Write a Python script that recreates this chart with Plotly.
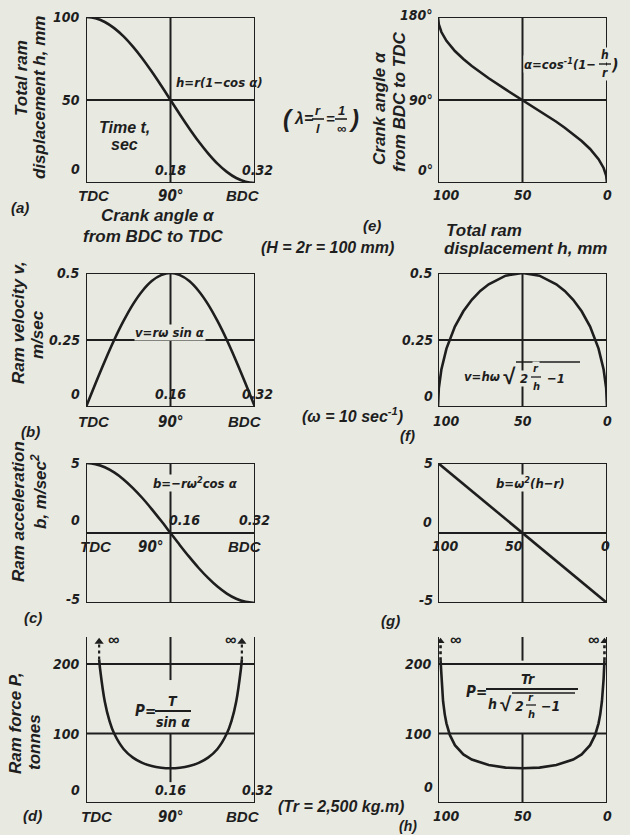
import plotly.graph_objects as go

W, H = 630, 835
BG = "#e8eae2"
INK = "#1e1e1e"
SANS = "Liberation Sans, Arial, DejaVu Sans, sans-serif"
NARROW = "Liberation Sans Narrow, DejaVu Sans Condensed, Liberation Sans, sans-serif"
TITLE = 17   # axis captions
NUM = 14     # tick numbers

# ---------------- data ----------------
# crank angle from TDC to BDC, degrees
crank_deg = [0, 10, 20, 30, 40, 50, 60, 70, 80, 90, 100, 110, 120, 130, 140, 150, 160, 170, 180]
# (a) ram displacement, mm
disp_mm = [100, 99.2, 97.0, 93.3, 88.3, 82.1, 75.0, 67.1, 58.7, 50, 41.3, 32.9, 25.0, 17.9, 11.7, 6.7, 3.0, 0.8, 0]
# (b) ram velocity, m/sec
vel_ms = [0, 0.087, 0.171, 0.25, 0.321, 0.383, 0.433, 0.470, 0.492, 0.5,
          0.492, 0.470, 0.433, 0.383, 0.321, 0.25, 0.171, 0.087, 0]
# (c) ram acceleration, m/sec^2
acc_ms2 = [5, 4.92, 4.70, 4.33, 3.83, 3.21, 2.5, 1.71, 0.87, 0,
           -0.87, -1.71, -2.5, -3.21, -3.83, -4.33, -4.70, -4.92, -5]
# (d) ram force vs crank angle, tonnes
force_deg = [14, 15, 20, 25, 30, 40, 50, 60, 70, 80, 90, 100, 110, 120, 130, 140, 150, 155, 160, 165, 166]
force_t = [206.7, 193.2, 146.2, 118.3, 100, 77.8, 65.3, 57.7, 53.2, 50.8, 50,
           50.8, 53.2, 57.7, 65.3, 77.8, 100, 118.3, 146.2, 193.2, 206.7]
# (e), (f) total ram displacement h, mm
stroke_mm = [100, 99.5, 98, 95, 90, 85, 80, 75, 70, 60, 50, 40, 30, 25, 20, 15, 10, 5, 2, 0.5, 0]
angle_deg = [180, 171.9, 163.7, 154.2, 143.1, 134.4, 126.9, 120, 113.6, 101.5, 90,
             78.5, 66.4, 60, 53.1, 45.6, 36.9, 25.8, 16.3, 8.1, 0]
vel_h = [0, 0.071, 0.14, 0.218, 0.3, 0.357, 0.4, 0.433, 0.458, 0.49, 0.5,
         0.49, 0.458, 0.433, 0.4, 0.357, 0.3, 0.218, 0.14, 0.071, 0]
# (g) acceleration is linear in h
acc_h_mm = [100, 50, 0]
acc_h = [5, 0, -5]
# (h) ram force vs displacement, tonnes
force_h_mm = [98.5, 98, 97, 96, 95, 93, 90, 85, 80, 70, 60, 50, 40, 30, 20, 15, 10, 7, 5, 4, 3, 2, 1.5]
force_h = [205.7, 178.6, 146.5, 127.6, 114.7, 98.0, 83.3, 70.0, 62.5, 54.6, 51.0, 50,
           51.0, 54.6, 62.5, 70.0, 83.3, 98.0, 114.7, 127.6, 146.5, 178.6, 205.7]

# tick labels
crank_ticks = [0, 90, 180]
crank_labels = ["TDC", "90°", "BDC"]
time_ticks = [90, 180]
time_labels_a = ["0.18", "0.32"]
time_labels = ["0.16", "0.32"]
h_ticks = [100, 50, 0]
h_labels = ["100", "50", "0"]

# ---------------- layout of the eight panels ----------------
# pixel box (left, right, top, bottom) and axis ranges
PANELS = {
    1: (86, 255, 17, 183),    # (a)
    2: (438, 607, 17, 183),   # (e)
    3: (86, 255, 273, 407),   # (b)
    4: (438, 607, 273, 407),  # (f)
    5: (86, 255, 463, 603),   # (c)
    6: (438, 607, 463, 603),  # (g)
    7: (86, 255, 637, 803),   # (d)
    8: (438, 607, 637, 803),  # (h)
}
RANGES = {
    1: ([0, 180], [0, 100]),
    2: ([100, 0], [0, 180]),
    3: ([0, 180], [0, 0.5]),
    4: ([100, 0], [0, 0.5]),
    5: ([0, 180], [-5, 5]),
    6: ([100, 0], [-5, 5]),
    7: ([0, 180], [0, 239]),
    8: ([100, 0], [0, 239]),
}


def refs(n):
    return ("x" if n == 1 else f"x{n}", "y" if n == 1 else f"y{n}")


layout = dict(
    width=W, height=H, margin=dict(l=0, r=0, t=0, b=0),
    paper_bgcolor=BG, plot_bgcolor=BG, showlegend=False,
)
for n, (l, r, t, b) in PANELS.items():
    xr, yr = RANGES[n]
    xk = "xaxis" if n == 1 else f"xaxis{n}"
    yk = "yaxis" if n == 1 else f"yaxis{n}"
    xa, ya = refs(n)
    layout[xk] = dict(domain=[l / W, r / W], range=xr, visible=False, anchor=ya)
    layout[yk] = dict(domain=[1 - b / H, 1 - t / H], range=yr, visible=False, anchor=xa)

shapes = []
annotations = []


def seg(n, x0, y0, x1, y1, w=2.0, dash="solid"):
    xa, ya = refs(n)
    shapes.append(dict(type="line", xref=xa, yref=ya, x0=x0, y0=y0, x1=x1, y1=y1,
                       line=dict(color=INK, width=w, dash=dash)))


def pseg(x0, y0, x1, y1, w=1.6):
    shapes.append(dict(type="line", xref="paper", yref="paper",
                       x0=x0 / W, y0=1 - y0 / H, x1=x1 / W, y1=1 - y1 / H,
                       line=dict(color=INK, width=w)))


def frame(n, top=True):
    (x0, x1), (y0, y1) = RANGES[n]
    seg(n, x0, y0, x1, y0)
    seg(n, x0, y0, x0, y1)
    seg(n, x1, y0, x1, y1)
    if top:
        seg(n, x0, y1, x1, y1)


def txt(s, x, y, ref=None, size=15, fam=SANS, xa="center", ya="middle",
        angle=0, xs=0, ys=0, bg=False):
    if ref is None:
        xref, yref, x, y = "paper", "paper", x / W, 1 - y / H
    else:
        xref, yref = refs(ref)
    d = dict(text=s, x=x, y=y, xref=xref, yref=yref, showarrow=False,
             font=dict(family=fam, size=size, color=INK, weight="bold", style="italic"),
             xanchor=xa, yanchor=ya, textangle=angle, xshift=xs, yshift=ys)
    if bg:
        d["bgcolor"] = BG
        d["borderpad"] = 0
    annotations.append(d)


fig = go.Figure()


def curve(n, xs, ys, w=2.6, dash="solid", shape="linear"):
    xa, ya = refs(n)
    fig.add_trace(go.Scatter(x=xs, y=ys, xaxis=xa, yaxis=ya, mode="lines",
                             line=dict(color=INK, width=w, dash=dash, shape=shape),
                             hoverinfo="skip"))


# ---------- (a) displacement vs crank angle ----------
frame(1)
seg(1, 0, 50, 180, 50)
seg(1, 90, 0, 90, 100)
curve(1, crank_deg, disp_mm, shape="spline")
txt("100", 0, 100, 1, size=NUM, fam=NARROW, xa="right", xs=-4)
txt("50", 0, 50, 1, size=NUM, fam=NARROW, xa="right", xs=-4)
txt("0", 0, 0, 1, size=NUM, fam=NARROW, xa="right", ya="bottom", xs=-4, ys=4)
for v, s in zip(time_ticks, time_labels_a):
    txt(s, v, 0, 1, size=NUM, fam=NARROW, ya="bottom", ys=3, xs=2 if v == 180 else 0)
for v, s in zip(crank_ticks, crank_labels):
    txt(s, v, 0, 1, fam=NARROW if v == 90 else SANS, size=NUM + 1, ya="top", ys=-2,
        xs={0: 8, 90: 0, 180: -12}[v])
txt("h=r(1−cos α)", 219, 82, fam=NARROW, size=13)
txt("Time t,", 124, 127, size=16)
txt("sec", 124, 144, size=16)
txt("Total ram", 21, 78, size=TITLE, angle=-90)
txt("displacement h, mm", 39, 98, size=TITLE, angle=-90)
txt("(a)", 20, 207, size=15)
txt("Crank angle α", 158, 216, size=TITLE)
txt("from BDC to TDC", 153, 237, size=TITLE)
txt("(H = 2r = 100 mm)", 327, 247, size=16)

# lambda note between (a) and (e)
txt("(", 288, 119, size=24)
txt("λ=", 303, 119, size=16)
txt("r", 318, 110, size=13)
txt("l", 318, 128, size=13)
pseg(312, 119, 324, 119)
txt("=", 330, 119, size=15)
txt("1", 341, 110, size=13)
txt("∞", 341, 128, size=13)
pseg(335, 119, 347, 119)
txt(")", 353, 119, size=24)

# ---------- (e) crank angle vs displacement ----------
frame(2)
seg(2, 100, 90, 0, 90)
seg(2, 50, 0, 50, 180)
curve(2, stroke_mm, angle_deg)
txt("180°", 100, 180, 2, size=NUM, fam=NARROW, xa="right", xs=-3, ys=2)
txt("90°", 100, 90, 2, size=NUM, fam=NARROW, xa="right", xs=-3)
txt("0°", 100, 0, 2, size=NUM, fam=NARROW, xa="right", ya="bottom", xs=-3, ys=3)
for v, s in zip(h_ticks, h_labels):
    txt(s, v, 0, 2, size=NUM, fam=NARROW, ya="top", ys=-2, xs={100: 8, 50: 0, 0: 0}[v])
txt("α=cos<sup>-1</sup>(1−", 597, 64, fam=NARROW, size=13, xa="right", bg=True)
txt("h", 605, 55, fam=NARROW, size=12, bg=True)
txt("r", 605, 73, fam=NARROW, size=12, bg=True)
pseg(599, 64, 611, 64, w=1.4)
txt(")", 615, 64, fam=NARROW, size=16)
txt("Crank angle α", 380, 108, size=TITLE, angle=-90)
txt("from BDC to TDC", 399, 102, size=TITLE, angle=-90)
txt("(e)", 372, 225, size=15)
txt("Total ram", 484, 231, size=TITLE)
txt("displacement h, mm", 525, 248, size=TITLE)

# ---------- (b) velocity vs crank angle ----------
frame(3)
seg(3, 0, 0.25, 180, 0.25)
seg(3, 90, 0, 90, 0.5)
curve(3, crank_deg, vel_ms, shape="spline")
txt("0.5", 0, 0.5, 3, size=NUM, fam=NARROW, xa="right", xs=-4)
txt("0.25", 0, 0.25, 3, size=NUM, fam=NARROW, xa="right", xs=-4)
txt("0", 0, 0, 3, size=NUM, fam=NARROW, xa="right", ya="bottom", xs=-4, ys=3)
for v, s in zip(time_ticks, time_labels):
    txt(s, v, 0, 3, size=NUM, fam=NARROW, ya="bottom", ys=3, xs=2 if v == 180 else 0)
for v, s in zip(crank_ticks, crank_labels):
    txt(s, v, 0, 3, fam=NARROW if v == 90 else SANS, size=NUM + 1, ya="top", ys=-4,
        xs={0: 8, 90: 0, 180: -10}[v])
txt("v=rω sin α", 170, 332, fam=NARROW, size=13, bg=True)
txt("Ram velocity v,", 18, 323, size=TITLE, angle=-90)
txt("m/sec", 38, 335, size=TITLE, angle=-90)
txt("(b)", 30, 431, size=15)
txt("(ω = 10 sec<sup>-1</sup>)", 352, 415, size=16)

# ---------- (f) velocity vs displacement ----------
frame(4)
seg(4, 100, 0.25, 0, 0.25)
seg(4, 50, 0, 50, 0.5)
curve(4, stroke_mm, vel_h)
txt("0.5", 100, 0.5, 4, size=NUM, fam=NARROW, xa="right", xs=-3)
txt("0.25", 100, 0.25, 4, size=NUM, fam=NARROW, xa="right", xs=-3)
txt("0", 100, 0, 4, size=NUM, fam=NARROW, xa="right", ya="bottom", xs=-3, ys=1)
for v, s in zip(h_ticks, h_labels):
    txt(s, v, 0, 4, size=NUM, fam=NARROW, ya="top", ys=-4, xs={100: 8, 50: 0, 0: 0}[v])
txt("v=hω", 482, 376, fam=NARROW, size=13, bg=True)
txt("√", 509, 376, fam=SANS, size=22, bg=True)
txt("2", 524, 378, fam=NARROW, size=13, bg=True)
txt("r", 536, 368, fam=NARROW, size=11, bg=True)
txt("h", 536, 386, fam=NARROW, size=11, bg=True)
pseg(531, 377, 541, 377, w=1.3)
txt("−1", 556, 378, fam=NARROW, size=13, bg=True)
pseg(516, 362, 580, 362, w=1.6)
txt("(f)", 407, 435, size=15)

# ---------- (c) acceleration vs crank angle ----------
frame(5)
seg(5, 0, 0, 180, 0)
seg(5, 90, -5, 90, 5)
curve(5, crank_deg, acc_ms2, shape="spline")
txt("5", 0, 5, 5, size=NUM, fam=NARROW, xa="right", xs=-4)
txt("0", 0, 0, 5, size=NUM, fam=NARROW, xa="right", ya="bottom", xs=-4, ys=3)
txt("-5", 0, -5, 5, size=NUM, fam=NARROW, xa="right", xs=-4, ys=4)
for v, s in zip(time_ticks, time_labels):
    txt(s, v, 0, 5, size=NUM, fam=NARROW, ya="bottom", ys=3, xs=14 if v == 90 else -1)
for v, s in zip(crank_ticks, crank_labels):
    txt(s, v, 0, 5, fam=NARROW if v == 90 else SANS, size=NUM + 1, ya="top", ys=-3,
        xs={0: 10, 90: -20, 180: -10}[v])
txt("b=−rω<sup>2</sup>cos α", 195, 483, fam=NARROW, size=13, bg=True)
txt("Ram acceleration", 18, 512, size=TITLE, angle=-90)
txt("b, m/sec<sup>2</sup>", 39, 492, size=TITLE, angle=-90)
txt("(c)", 33, 617, size=15)

# ---------- (g) acceleration vs displacement ----------
frame(6)
seg(6, 100, 0, 0, 0)
seg(6, 50, -5, 50, 5)
curve(6, acc_h_mm, acc_h)
txt("5", 100, 5, 6, size=NUM, fam=NARROW, xa="right", xs=-3)
txt("0", 100, 0, 6, size=NUM, fam=NARROW, xa="right", ya="bottom", xs=-4, ys=1)
txt("-5", 100, -5, 6, size=NUM, fam=NARROW, xa="right", xs=-3, ys=3)
for v, s in zip(h_ticks, h_labels):
    txt(s, v, 0, 6, size=NUM, fam=NARROW, ya="top", ys=-3, xs={100: 7, 50: -9, 0: -2}[v])
txt("b=ω<sup>2</sup>(h−r)", 530, 483, fam=NARROW, size=13, bg=True)
txt("(g)", 390, 620, size=15)

# ---------- (d) force vs crank angle ----------
frame(7, top=False)
seg(7, 0, 100, 180, 100)
seg(7, 0, 200, 180, 200)
seg(7, 90, 30, 90, 100)
seg(7, 90, 177, 90, 239)
curve(7, force_deg, force_t, shape="spline")
for xv in (force_deg[0], force_deg[-1]):
    curve(7, [xv, xv], [force_t[0], 230], w=2.2, dash="dot")
    fig.add_trace(go.Scatter(x=[xv], y=[232], xaxis="x7", yaxis="y7", mode="markers",
                             marker=dict(symbol="triangle-up", size=8, color=INK),
                             hoverinfo="skip"))
txt("∞", 113, 639, size=16)
txt("∞", 230, 639, size=16)
txt("200", 0, 200, 7, size=NUM, fam=NARROW, xa="right", xs=-4)
txt("100", 0, 100, 7, size=NUM, fam=NARROW, xa="right", xs=-4)
txt("0", 0, 0, 7, size=NUM, fam=NARROW, xa="right", ya="bottom", xs=-4, ys=3)
for v, s in zip(time_ticks, time_labels):
    txt(s, v, 0, 7, size=NUM, fam=NARROW, ya="bottom", ys=3, xs=2 if v == 180 else 0)
for v, s in zip(crank_ticks, crank_labels):
    txt(s, v, 0, 7, fam=NARROW if v == 90 else SANS, size=NUM + 1, ya="top", ys=-3,
        xs={0: 11, 90: 0, 180: -12}[v])
txt("P=", 145, 711, fam=NARROW, size=15)
txt("T", 173, 701, fam=NARROW, size=14)
pseg(155, 711, 191, 711, w=1.8)
txt("sin α", 173, 722, fam=NARROW, size=14)
txt("Ram force P,", 15, 723, size=TITLE, angle=-90)
txt("tonnes", 34, 742, size=TITLE, angle=-90)
txt("(d)", 32, 815, size=15)
txt("(Tr = 2,500 kg.m)", 341, 806, size=16)
txt("(h)", 408, 826, size=14)

# ---------- (h) force vs displacement ----------
frame(8, top=False)
seg(8, 100, 100, 0, 100)
seg(8, 100, 200, 0, 200)
seg(8, 50, 0, 50, 100)
seg(8, 50, 205, 50, 239)
curve(8, force_h_mm, force_h)
for xv in (force_h_mm[0], force_h_mm[-1]):
    curve(8, [xv, xv], [force_h[0], 230], w=2.6, dash="dot")
    fig.add_trace(go.Scatter(x=[xv], y=[233], xaxis="x8", yaxis="y8", mode="markers",
                             marker=dict(symbol="triangle-up", size=7, color=INK),
                             hoverinfo="skip"))
txt("∞", 455, 639, size=16)
txt("∞", 593, 639, size=16)
txt("200", 100, 200, 8, size=NUM, fam=NARROW, xa="right", xs=-4)
txt("100", 100, 100, 8, size=NUM, fam=NARROW, xa="right", xs=-4)
txt("0", 100, 0, 8, size=NUM, fam=NARROW, xa="right", ya="bottom", xs=-3, ys=6)
for v, s in zip(h_ticks, h_labels):
    txt(s, v, 0, 8, size=NUM, fam=NARROW, ya="top", ys=-3, xs={100: 8, 50: 0, 0: 0}[v])
txt("P=", 476, 692, fam=NARROW, size=15)
txt("Tr", 528, 679, fam=NARROW, size=14)
pseg(486, 689, 578, 689, w=2.2)
txt("h", 492, 704, fam=NARROW, size=14)
txt("√", 505, 704, fam=SANS, size=20)
txt("2", 519, 706, fam=NARROW, size=14)
txt("r", 531, 697, fam=NARROW, size=11)
txt("h", 531, 714, fam=NARROW, size=11)
pseg(526, 705, 536, 705, w=1.3)
txt("−1", 550, 706, fam=NARROW, size=14)
pseg(512, 693, 575, 693, w=1.4)

layout["shapes"] = shapes
layout["annotations"] = annotations
fig.update_layout(**layout)
fig.write_html("out.html")
